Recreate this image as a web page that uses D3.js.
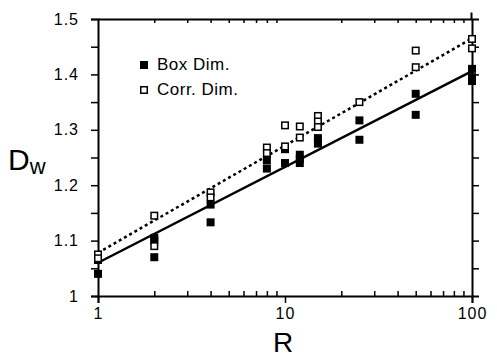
<!DOCTYPE html>
<html>
<head>
<meta charset="utf-8">
<script src="https://cdn.jsdelivr.net/npm/d3@7"></script>
<style>
  body { margin: 0; background: #fff; }
  svg { display: block; font-family: 'Liberation Sans', Arial, sans-serif; }
</style>
</head>
<body>
<svg id="chart"></svg>
<script>
// fractal dimension vs R
const boxR = [1, 1, 2, 2, 2, 4, 4, 8, 8, 10, 10, 12, 12, 12, 15, 15, 25, 25, 50, 50, 100, 100, 100];
const boxD = [1.065, 1.04, 1.105, 1.1, 1.07, 1.165, 1.133, 1.245, 1.23, 1.265, 1.24, 1.255, 1.247, 1.24, 1.285, 1.275, 1.317, 1.282, 1.365, 1.327, 1.41, 1.395, 1.388];
const corrR = [1, 1, 2, 2, 4, 4, 8, 8, 10, 10, 12, 12, 15, 15, 15, 25, 50, 50, 100, 100];
const corrD = [1.075, 1.068, 1.145, 1.09, 1.187, 1.178, 1.268, 1.258, 1.308, 1.27, 1.306, 1.286, 1.325, 1.315, 1.305, 1.35, 1.443, 1.413, 1.464, 1.447];
// fitted lines (end points)
const boxFitR = [1, 100];
const boxFitD = [1.06, 1.406];
const corrFitR = [1, 100];
const corrFitD = [1.078, 1.465];
const yTicks = [1, 1.05, 1.1, 1.15, 1.2, 1.25, 1.3, 1.35, 1.4, 1.45, 1.5];
const xMajor = [1, 10, 100];
const seriesNames = ['Box Dim.', 'Corr. Dim.'];

const W = 497, H = 357;
const margin = { top: 19, right: 25, bottom: 61, left: 98 };

const svg = d3.select('#chart').attr('width', W).attr('height', H);

const x = d3.scaleLog().domain([1, 100]).range([margin.left, W - margin.right]);
const y = d3.scaleLinear().domain([1, 1.5]).range([H - margin.bottom, margin.top]);

const xMinor = [];
for (let d = 1; d < 100; d *= 10) for (let k = 2; k <= 9; k++) xMinor.push(d * k);

const fmtY = v => (Math.abs(v * 10 - Math.round(v * 10)) < 1e-6 ? d3.format('~g')(v) : '');

// frame + ticks
svg.append('g')
  .attr('transform', `translate(${margin.left},0)`)
  .call(d3.axisLeft(y).tickValues(yTicks).tickFormat(fmtY).tickSize(7).tickPadding(12))
  .call(g => g.select('.domain').attr('stroke-width', 2));

svg.append('g')
  .attr('transform', `translate(${W - margin.right},0)`)
  .call(d3.axisRight(y).tickValues(yTicks.slice(1, -1)).tickFormat('').tickSize(7))
  .call(g => g.select('.domain').attr('stroke-width', 2));

svg.append('g')
  .attr('transform', `translate(0,${H - margin.bottom})`)
  .call(d3.axisBottom(x).tickValues(xMajor).tickFormat(d3.format('d')).tickSize(7).tickPadding(5))
  .call(g => g.select('.domain').attr('stroke-width', 2));

svg.append('g')
  .attr('transform', `translate(0,${H - margin.bottom})`)
  .call(d3.axisTop(x).tickValues(xMinor).tickFormat('').tickSize(5))
  .call(g => g.select('.domain').remove());

svg.append('g')
  .attr('transform', `translate(0,${margin.top})`)
  .call(d3.axisBottom(x).tickValues(xMinor).tickFormat('').tickSize(4).tickSizeOuter(0))
  .call(g => g.select('.domain').attr('stroke-width', 2));

// little overhangs of the hand-drawn frame at the top right
svg.append('g')
  .attr('transform', `translate(${W - margin.right},0)`)
  .call(d3.axisTop(y.copy().range([margin.top, margin.top - 7])).tickValues([]).tickSizeOuter(0))
  .call(g => g.select('.domain').attr('transform', 'rotate(90)').attr('stroke-width', 2));

svg.selectAll('.tick line').attr('stroke-width', 1.5);
svg.selectAll('.tick text').attr('font-size', 16).attr('fill', '#000').attr('letter-spacing', 1);

// fit lines
const line = d3.line().x(d => x(d[0])).y(d => y(d[1]));
svg.append('path')
  .datum(d3.zip(boxFitR, boxFitD))
  .attr('fill', 'none').attr('stroke', '#000').attr('stroke-width', 2.5)
  .attr('d', line);
svg.append('path')
  .datum(d3.zip(corrFitR, corrFitD))
  .attr('fill', 'none').attr('stroke', '#000').attr('stroke-width', 2.5)
  .attr('stroke-dasharray', '3,3')
  .attr('d', line);

// points
const s = 8;
svg.append('g').selectAll('rect')
  .data(d3.zip(boxR, boxD))
  .join('rect')
  .attr('x', d => x(d[0]) - s / 2).attr('y', d => y(d[1]) - s / 2)
  .attr('width', s).attr('height', s).attr('fill', '#000');

svg.append('g').selectAll('rect')
  .data(d3.zip(corrR, corrD))
  .join('rect')
  .attr('x', d => x(d[0]) - s / 2 + 0.75).attr('y', d => y(d[1]) - s / 2 + 0.75)
  .attr('width', s - 1.5).attr('height', s - 1.5)
  .attr('fill', '#fff').attr('stroke', '#000').attr('stroke-width', 1.5);

// legend
const leg = svg.append('g').attr('transform', 'translate(140,61)');
seriesNames.forEach((name, i) => {
  const row = leg.append('g').attr('transform', `translate(0,${i * 25})`);
  if (i === 0) row.append('rect').attr('width', 8).attr('height', 8).attr('fill', '#000');
  else row.append('rect').attr('x', 0.75).attr('y', 0.75).attr('width', 6.5).attr('height', 6.5)
    .attr('fill', '#fff').attr('stroke', '#000').attr('stroke-width', 1.5);
  row.append('text').attr('x', 17).attr('y', 9).attr('font-size', 17)
    .attr('letter-spacing', 0.5).text(name);
});

// axis titles
svg.append('text').attr('x', (margin.left + W - margin.right) / 2 - 2).attr('y', 352)
  .attr('text-anchor', 'middle').attr('font-size', 28).text('R');
const yl = svg.append('text').attr('x', 8).attr('y', 170).attr('font-size', 30);
yl.append('tspan').text('D');
yl.append('tspan').attr('font-size', 22).attr('dy', 4).text('w');
</script>
</body>
</html>
